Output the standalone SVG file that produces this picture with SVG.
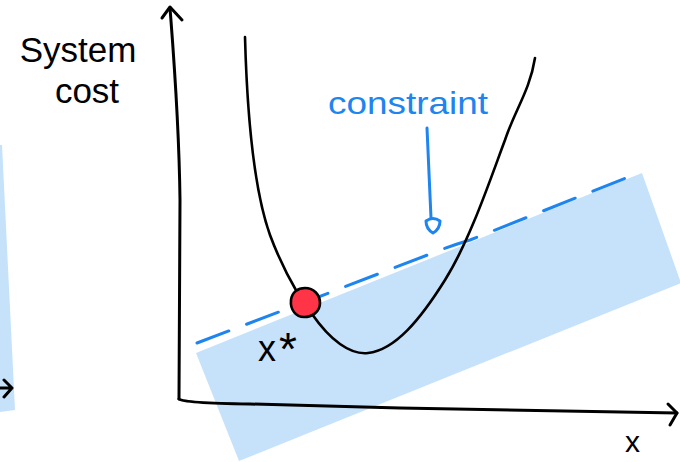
<svg xmlns="http://www.w3.org/2000/svg" width="680" height="462" viewBox="0 0 680 462">
<style>
.ink{fill:none;stroke:#000;stroke-width:3;stroke-linecap:round;stroke-linejoin:round}
.curve{fill:none;stroke:#000;stroke-width:2.6;stroke-linecap:round;stroke-linejoin:round}
.blue{fill:none;stroke:#1e84f0;stroke-width:3;stroke-linecap:round;stroke-linejoin:round}
.region{fill:#c6e2fb}
.hand{font-family:"Liberation Sans",Arial,sans-serif}
</style>
<rect width="680" height="462" fill="#fff"/>
<g id="left-strip">
<polygon class="region" points="0,145 2,145 15,410 0,412"/>
<path class="ink" d="M0,388 L12,388 M4,380 L12,388 L4,397"/>
</g>
<g id="feasible-region">
<polygon class="region" points="196,353 642,173 681,283 239,461"/>
</g>
<g id="connectors">
<path id="y-axis" class="ink" d="M170,8 C174,60 179,120 180,200 L179,399"/>
<path class="ink" d="M162,18 L170,7 L182,20"/>
<path id="x-axis" class="ink" d="M179,399 Q183,403 250,404 L400,408 L677,413"/>
<path class="ink" d="M668,404 L677,413 L670,425"/>
<path id="constraint-line" class="blue" stroke-dasharray="34 19" d="M197,343 L300,304 L430,254 Q450,246 470,240 L636,174"/>
<path id="constraint-pointer" class="blue" d="M427,128 L431,218"/>
<path class="blue" stroke-width="2.6" d="M426,221 Q433,216 440,221 Q440,229 433,233 Q426,229 426,221 Z"/>
</g>
<g id="cost-curve">
<path class="curve" d="M245,37 C247,110 254,190 270,235 C280,262 290,280 297,292"/>
<path class="curve" d="M312,314 C330,340 350,355 368,353 C395,350 420,320 445,280 C470,240 490,180 505,140 C515,110 530,90 535,58"/>
</g>
<g id="optimum">
<path fill="#ff3447" stroke="#000" stroke-width="2.6" d="M291,300 C292,292 298,288 305,288 C314,288 320,295 320,303 C320,312 312,317 304,317 C296,317 290,310 291,300 Z"/>
<text class="hand" x="258" y="361" font-size="36" fill="#000">x<tspan dx="3" dy="4" font-size="46">*</tspan></text>
</g>
<g id="labels">
<text class="hand" x="78" y="62" font-size="35" text-anchor="middle" fill="#000">System</text>
<text class="hand" x="87" y="103" font-size="35" text-anchor="middle" fill="#000">cost</text>
<text class="hand" x="328" y="114" font-size="32" fill="#1e84f0" textLength="160" lengthAdjust="spacingAndGlyphs">constraint</text>
<text class="hand" x="625" y="452" font-size="30" fill="#000">x</text>
</g>
</svg>
